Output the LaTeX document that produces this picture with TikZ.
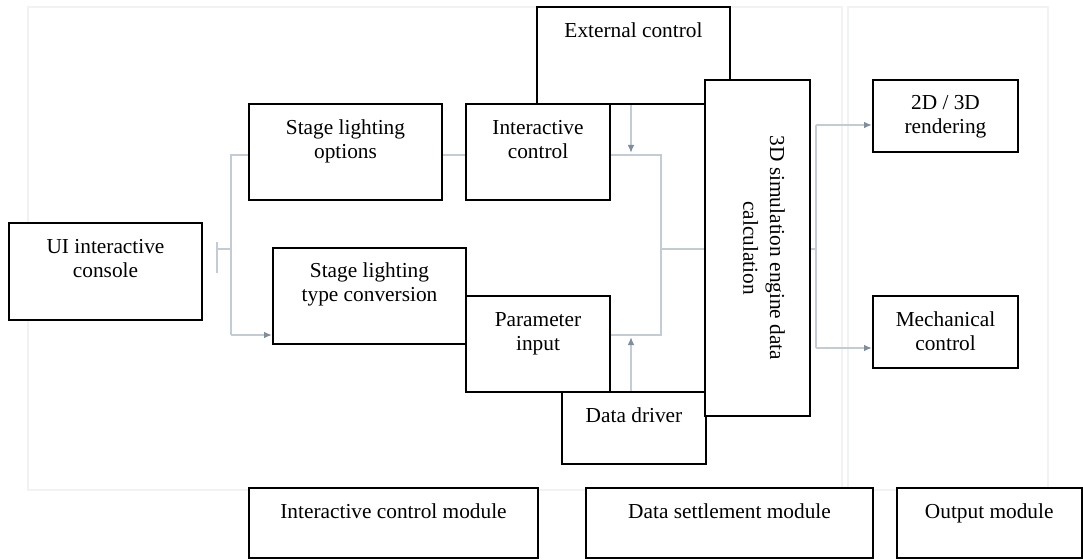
\documentclass[tikz,border=0pt]{standalone}
\usepackage{fontspec}
\setmainfont{Liberation Serif}
\usetikzlibrary{fit,calc,arrows.meta,backgrounds}
\definecolor{wirec}{HTML}{C3CCD5}
\definecolor{tipc}{HTML}{7E8E9E}
\definecolor{framec}{HTML}{F0F2F4}
\begin{document}
\begin{tikzpicture}[x=0.75pt, y=-0.75pt,
  box/.style={draw=black, line width=1.5pt, fill=white, inner sep=0pt},
  lbl/.style={font=\fontsize{16}{18}\selectfont, align=center, inner sep=0pt, anchor=north},
  wire/.style={draw=wirec, line width=1.3pt},
  arr/.style={wire, -{Latex[length=6pt,width=5pt,color=tipc]}},
  frame/.style={draw=framec, line width=2pt}]
\useasboundingbox (0,0) rectangle (1083,560);

% input side
\node[box, fit={(9,223) (202,320)}] (ui) {};
\node[lbl] (uiT) at ($(ui.north)+(0,14)$) {\strut UI interactive\\console};
\node[box, fit={(249,104) (442,200)}] (opt) {};
\node[lbl] (optT) at ($(opt.north)+(0,14)$) {\strut Stage lighting\\options};
\node[box, fit={(273,248) (466,344)}] (conv) {};
\node[lbl] (convT) at ($(conv.north)+(0,13)$) {\strut Stage lighting\\type conversion};

% control and data boxes
\node[box, fit={(537,7) (730,104)}] (ext) {};
\node[lbl] (extT) at ($(ext.north)+(0,14)$) {\strut External control};
\node[box, fit={(466,104) (610,200)}] (ic) {};
\node[lbl] (icT) at ($(ic.north)+(0,14)$) {\strut Interactive\\control};
\node[box, fit={(466,296) (610,392)}] (par) {};
\node[lbl] (parT) at ($(par.north)+(0,14)$) {\strut Parameter\\input};
\node[box, fit={(562,392) (706,464)}] (drv) {};
\node[lbl] (drvT) at ($(drv.north)+(0,14)$) {\strut Data driver};

% simulation engine
\node[box, fit={(705,80) (810,416)}] (sim) {};
\node[font=\fontsize{16}{20}\selectfont, align=center, inner sep=0pt, rotate=-90] (simT)
  at (764,248) {3D simulation engine data\\calculation};

% outputs
\node[box, fit={(873,80) (1018,152)}] (rend) {};
\node[lbl] (rendT) at ($(rend.north)+(0,13)$) {\strut 2D / 3D\\rendering};
\node[box, fit={(873,296) (1018,368)}] (mech) {};
\node[lbl] (mechT) at ($(mech.north)+(0,14)$) {\strut Mechanical\\control};

% module captions
\node[box, fit={(249,488) (538,558)}] (m1) {};
\node[lbl] (m1T) at ($(m1.north)+(0,14)$) {\strut Interactive control module};
\node[box, fit={(586,488) (873,558)}] (m2) {};
\node[lbl] (m2T) at ($(m2.north)+(0,14)$) {\strut Data settlement module};
\node[box, fit={(897,488) (1081.5,558)}] (m3) {};
\node[lbl] (m3T) at ($(m3.north)+(0,14)$) {\strut Output module};

% junction points of the wiring
\coordinate (trT) at (231,155);
\coordinate (trB) at (231,335);
\coordinate (tick) at (217,249);
\coordinate (mT) at (661,155);
\coordinate (mM) at (661,249);
\coordinate (mB) at (661,335);
\coordinate (aT) at (631,153);
\coordinate (aB) at (631,337);
\coordinate (rj) at (816,249);
\coordinate (rT) at (816,125);
\coordinate (rB) at (816,348);

\begin{scope}[on background layer]
  % module frames
  \draw[frame] (28,7) rectangle (842,490);
  \draw[frame] (848,7) rectangle (1048,490);
  % console branches
  \draw[wire] ($(tick)+(0,-7)$) -- ($(tick)+(0,24)$);
  \draw[wire] (tick) -- (tick -| trT);
  \draw[wire] (opt.west |- trT) -- (trT) -- (trB);
  \draw[arr] (trB) -- (conv.west |- trB);
  \draw[wire] (opt.east |- trT) -- (ic.west |- trT);
  % merging into the engine
  \draw[wire] (ic.east |- mT) -- (mT) -- (mB) -- (par.east |- mB);
  \draw[wire] (mM) -- (sim.west |- mM);
  \draw[arr] (ext.south -| aT) -- (aT);
  \draw[arr] (drv.north -| aB) -- (aB);
  % engine outputs
  \draw[wire] (sim.east |- rj) -- (rj);
  \draw[wire] (rT) -- (rB);
  \draw[arr] (rT) -- (rend.west |- rT);
  \draw[arr] (rB) -- (mech.west |- rB);
\end{scope}
\end{tikzpicture}
\end{document}
